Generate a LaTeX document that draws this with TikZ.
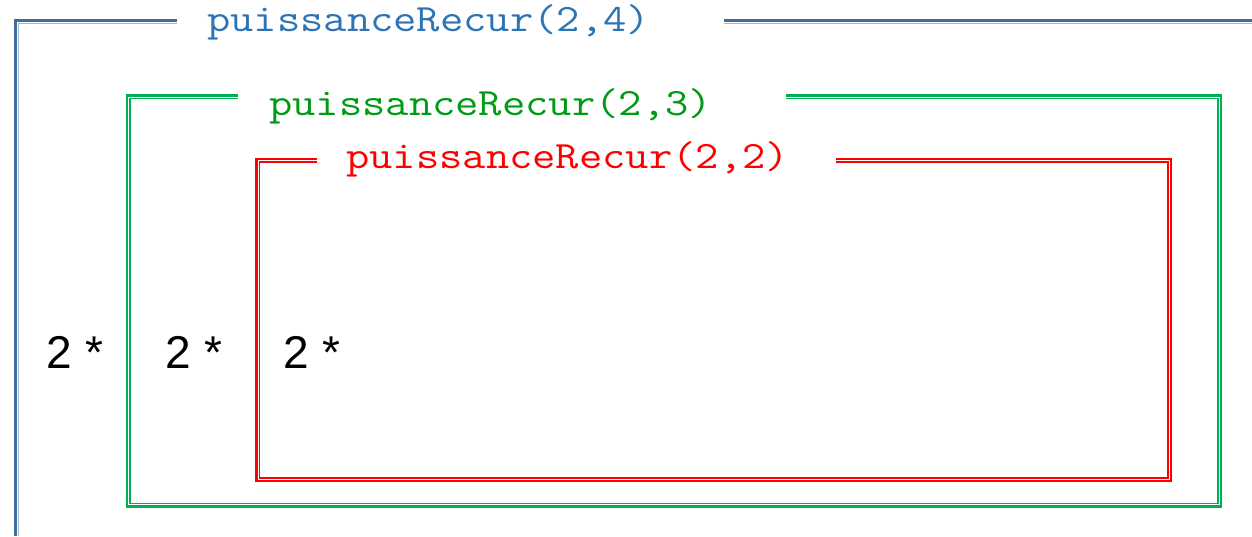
\documentclass[tikz,border=0pt]{standalone}
\usepackage{fontspec}
\usepackage{graphicx}
\setsansfont{Liberation Sans}
\definecolor{callblue}{RGB}{68,108,152}
\definecolor{callbluelight}{RGB}{165,183,206}
\definecolor{titleblue}{RGB}{46,116,181}
\definecolor{callgreen}{RGB}{0,176,80}
\definecolor{titlegreen}{RGB}{0,155,20}
\definecolor{callred}{RGB}{255,0,0}
\tikzstyle{frm}=[line width=2.1pt]
\tikzstyle{frmin}=[line width=0.8pt]
\tikzstyle{call}=[anchor=base west,inner sep=0pt,font=\ttfamily\fontsize{29}{34}\selectfont]
\tikzstyle{mul}=[anchor=base west,inner sep=0pt,font=\sffamily\fontsize{34.5}{40}\selectfont]

\begin{document}
\begin{tikzpicture}[x=0.75pt,y=-0.75pt]
      \useasboundingbox (0,0) rectangle (1252,536);
      \node[call,text=titleblue]  (t_4) at (207,31.7)  {\scalebox{1.17}[1]{puissanceRecur(2,4)}};
      \node[call,text=titlegreen] (t_3) at (269,115.7) {\scalebox{1.17}[1]{puissanceRecur(2,3)}};
      \node[call,text=callred]    (t_2) at (346,168.5) {\scalebox{1.17}[1]{puissanceRecur(2,2)}};
      \node[mul] (m_4) at (46.5,368)  {2 *};
      \node[mul] (m_3) at (165.5,368) {2 *};
      \node[mul] (m_2) at (283.5,368) {2 *};
      \draw[frm,callblue] (177,20.3) -- (15.5,20.3) -- (15.5,536);
      \draw[frm,callblue] (724,20.3) -- (1252,20.3);
      \draw[frmin,callbluelight] (177,23.5) -- (18.5,23.5) -- (18.5,536);
      \draw[frmin,callbluelight] (724,23.5) -- (1252,23.5);
      \draw[frm,callgreen] (238,95.2) -- (127,95.2) -- (127,506.3) -- (1221,506.3) -- (1221,95.2) -- (786,95.2);
      \draw[frmin,callgreen] (238,98.2) -- (130,98.2) -- (130,503.3) -- (1218,503.3) -- (1218,98.2) -- (786,98.2);
      \draw[frm,callred] (317,159) -- (256.8,159) -- (256.8,481) -- (1171,481) -- (1171,159) -- (836,159);
      \draw[frmin,callred] (317,162) -- (259.8,162) -- (259.8,478) -- (1168,478) -- (1168,162) -- (836,162);
    \end{tikzpicture}
\end{document}
